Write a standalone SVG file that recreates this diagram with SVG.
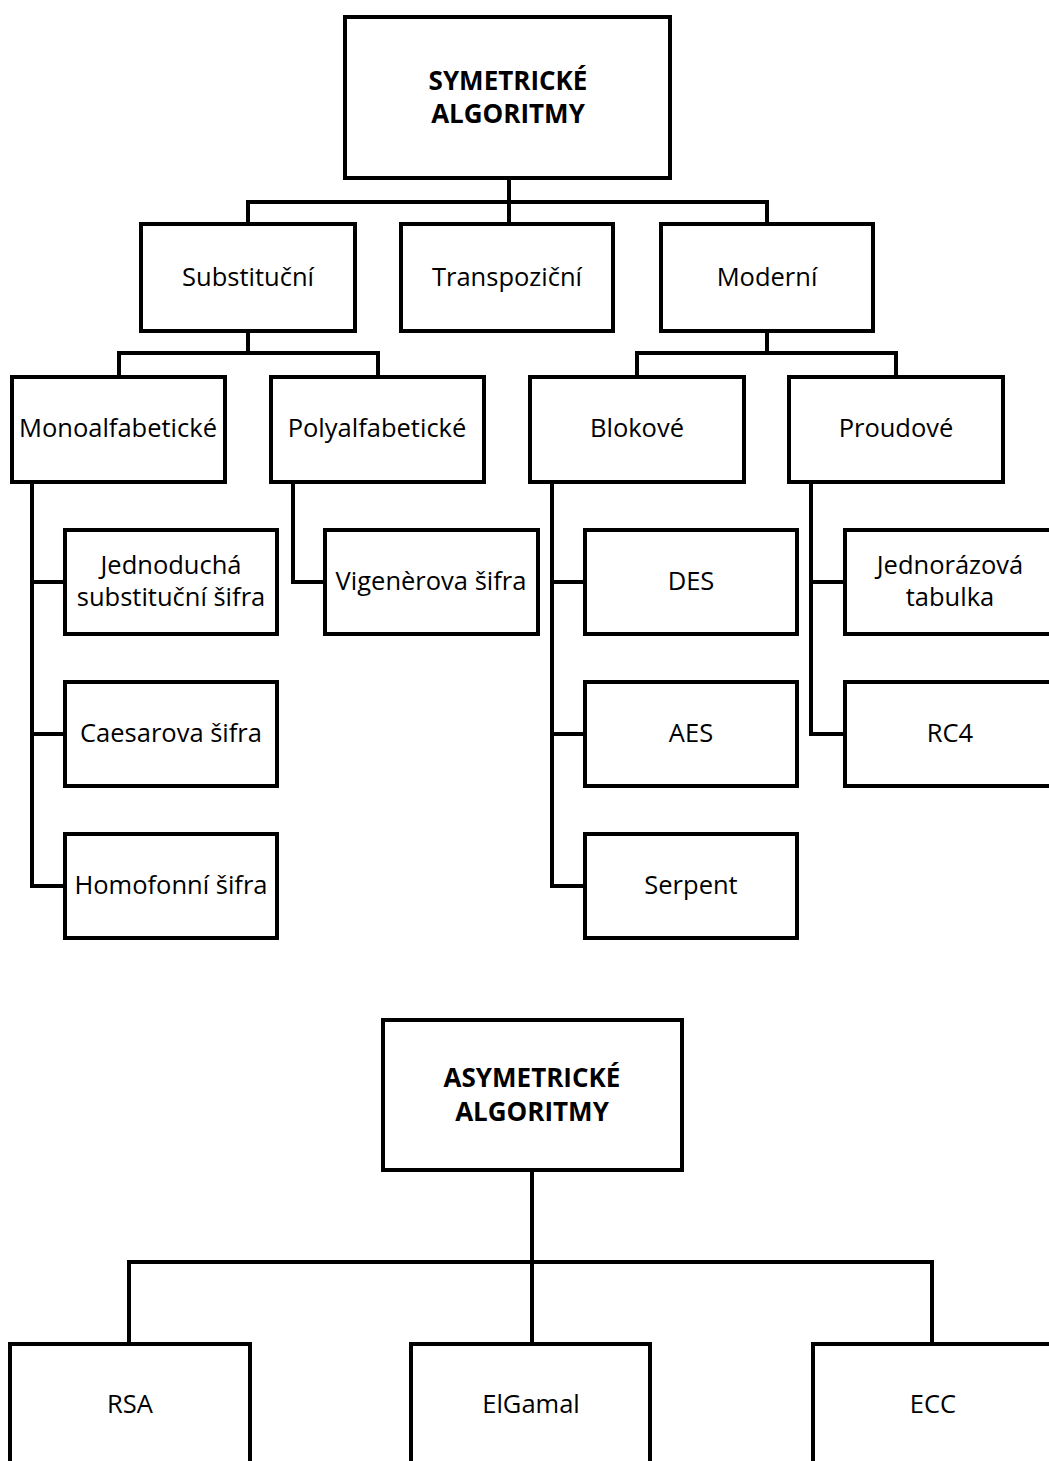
<svg xmlns="http://www.w3.org/2000/svg" width="1049" height="1461" viewBox="0 0 1049 1461">
  <style>
    .box { fill: #ffffff; stroke: #000000; stroke-width: 4; }
    .link { fill: none; stroke: #000000; stroke-width: 4; stroke-linejoin: miter; stroke-linecap: butt; }
    .lbl { font-family: "Open Sans", "Noto Sans", "Liberation Sans", sans-serif; font-size: 25.5px; fill: #000000; text-anchor: middle; }
    .ttl { font-family: "Open Sans", "Noto Sans", "Liberation Sans", sans-serif; font-size: 26px; font-weight: bold; fill: #000000; text-anchor: middle; }
  </style>
  <rect width="1049" height="1461" fill="#ffffff"/>

  <!-- connectors -->
  <g id="connectors">
    <path class="link" d="M509 180 V202 M248 222 V202 H767 V222 M509 202 V222"/>
    <path class="link" d="M248 333 V353 M119 375 V353 H378 V375"/>
    <path class="link" d="M767 333 V353 M637 375 V353 H896 V375"/>
    <path class="link" d="M32 484 V886 H63 M32 582 H63 M32 734 H63"/>
    <path class="link" d="M293 484 V582 H323"/>
    <path class="link" d="M552 484 V886 H583 M552 582 H583 M552 734 H583"/>
    <path class="link" d="M811 484 V734 H843 M811 582 H843"/>
    <path class="link" d="M532 1172 V1262 M129 1342 V1262 H932 V1342 M532 1262 V1342"/>
  </g>

  <!-- symmetric algorithms tree -->
  <g id="sym-root">
    <rect class="box" x="345" y="17" width="325" height="161"/>
    <text class="ttl" x="508" y="90">SYMETRICKÉ</text>
    <text class="ttl" x="508" y="123">ALGORITMY</text>
  </g>
  <g id="substitucni">
    <rect class="box" x="141" y="224" width="214" height="107"/>
    <text class="lbl" x="248" y="286">Substituční</text>
  </g>
  <g id="transpozicni">
    <rect class="box" x="401" y="224" width="212" height="107"/>
    <text class="lbl" x="507" y="286">Transpoziční</text>
  </g>
  <g id="moderni">
    <rect class="box" x="661" y="224" width="212" height="107"/>
    <text class="lbl" x="767" y="286">Moderní</text>
  </g>
  <g id="monoalfabeticke">
    <rect class="box" x="12" y="377" width="213" height="105"/>
    <text class="lbl" x="118" y="437">Monoalfabetické</text>
  </g>
  <g id="polyalfabeticke">
    <rect class="box" x="271" y="377" width="213" height="105"/>
    <text class="lbl" x="377" y="437">Polyalfabetické</text>
  </g>
  <g id="blokove">
    <rect class="box" x="530" y="377" width="214" height="105"/>
    <text class="lbl" x="637" y="437">Blokové</text>
  </g>
  <g id="proudove">
    <rect class="box" x="789" y="377" width="214" height="105"/>
    <text class="lbl" x="896" y="437">Proudové</text>
  </g>
  <g id="jednoducha">
    <rect class="box" x="65" y="530" width="212" height="104"/>
    <text class="lbl" x="171" y="574">Jednoduchá</text>
    <text class="lbl" x="171" y="606">substituční šifra</text>
  </g>
  <g id="caesarova">
    <rect class="box" x="65" y="682" width="212" height="104"/>
    <text class="lbl" x="171" y="742">Caesarova šifra</text>
  </g>
  <g id="homofonni">
    <rect class="box" x="65" y="834" width="212" height="104"/>
    <text class="lbl" x="171" y="894">Homofonní šifra</text>
  </g>
  <g id="vigenerova">
    <rect class="box" x="325" y="530" width="213" height="104"/>
    <text class="lbl" x="431" y="590">Vigenèrova šifra</text>
  </g>
  <g id="des">
    <rect class="box" x="585" y="530" width="212" height="104"/>
    <text class="lbl" x="691" y="590">DES</text>
  </g>
  <g id="aes">
    <rect class="box" x="585" y="682" width="212" height="104"/>
    <text class="lbl" x="691" y="742">AES</text>
  </g>
  <g id="serpent">
    <rect class="box" x="585" y="834" width="212" height="104"/>
    <text class="lbl" x="691" y="894">Serpent</text>
  </g>
  <g id="jednorazova">
    <rect class="box" x="845" y="530" width="212" height="104"/>
    <text class="lbl" x="950" y="574">Jednorázová</text>
    <text class="lbl" x="950" y="606">tabulka</text>
  </g>
  <g id="rc4">
    <rect class="box" x="845" y="682" width="212" height="104"/>
    <text class="lbl" x="950" y="742">RC4</text>
  </g>

  <!-- asymmetric algorithms tree -->
  <g id="asym-root">
    <rect class="box" x="383" y="1020" width="299" height="150"/>
    <text class="ttl" x="532" y="1087">ASYMETRICKÉ</text>
    <text class="ttl" x="532" y="1121">ALGORITMY</text>
  </g>
  <g id="rsa">
    <rect class="box" x="10" y="1344" width="240" height="160"/>
    <text class="lbl" x="130" y="1413">RSA</text>
  </g>
  <g id="elgamal">
    <rect class="box" x="411" y="1344" width="239" height="160"/>
    <text class="lbl" x="531" y="1413">ElGamal</text>
  </g>
  <g id="ecc">
    <rect class="box" x="813" y="1344" width="240" height="160"/>
    <text class="lbl" x="933" y="1413">ECC</text>
  </g>
</svg>
